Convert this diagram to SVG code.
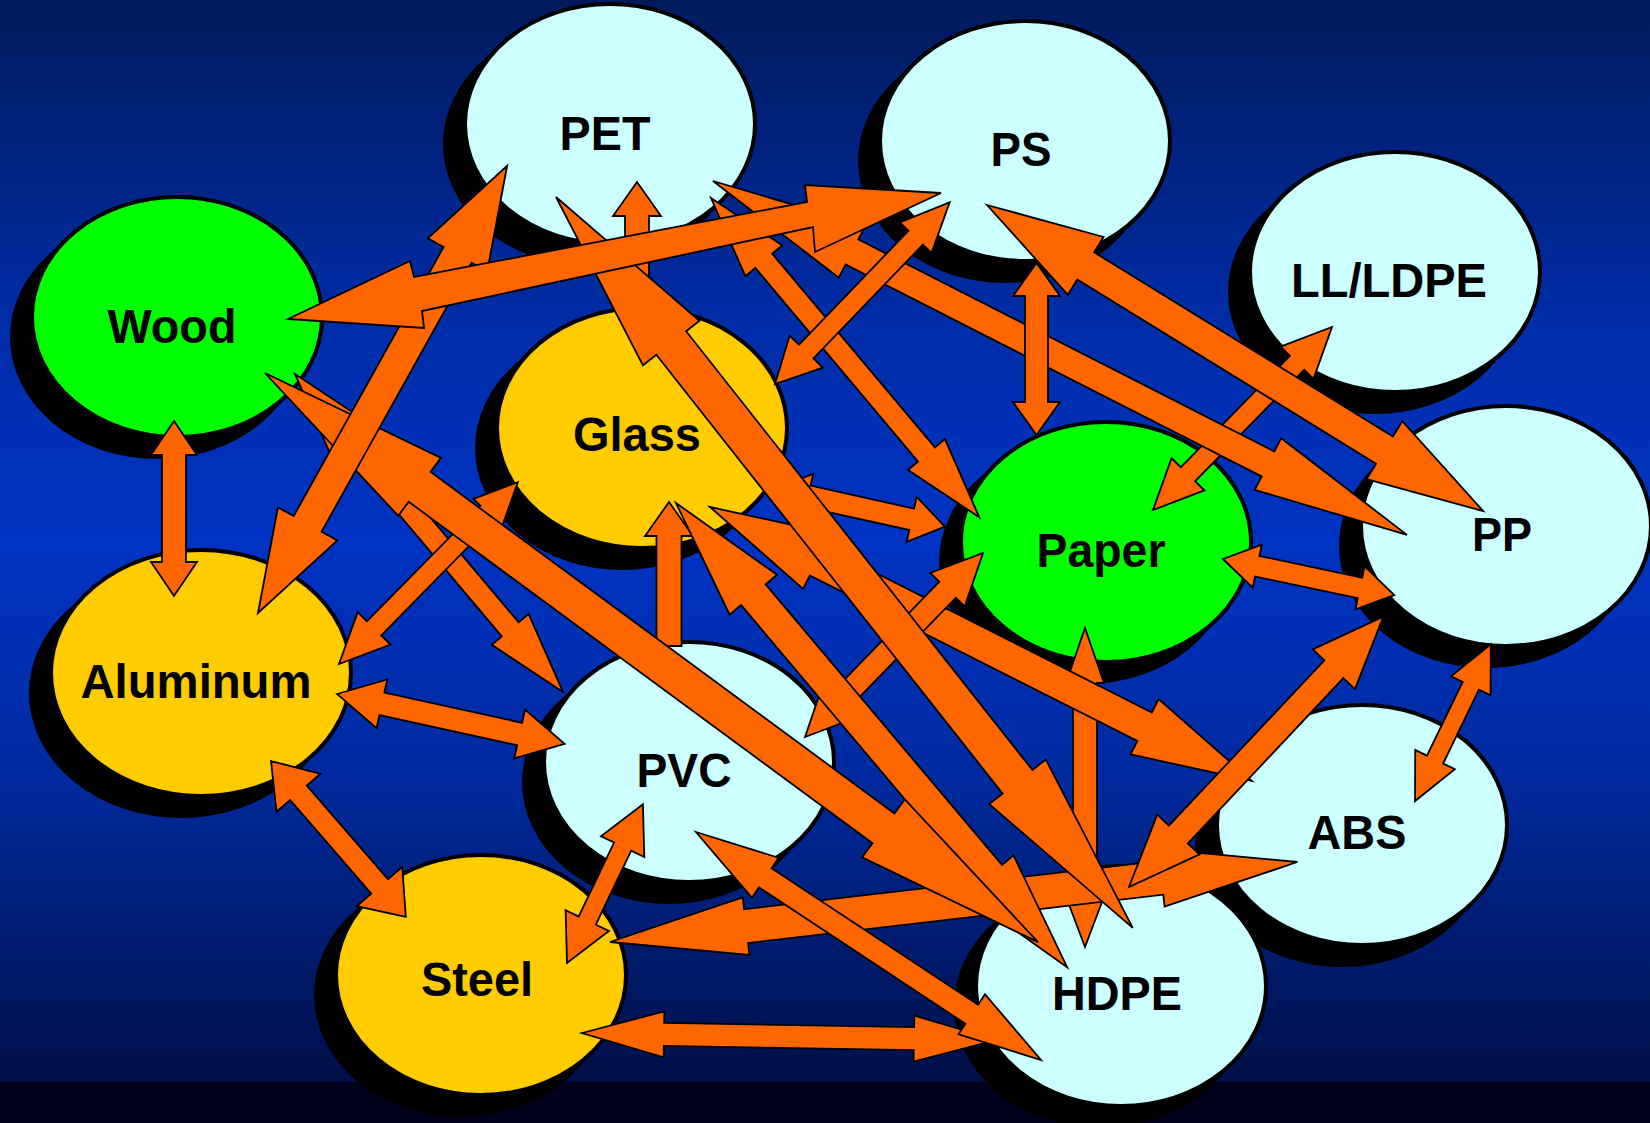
<svg xmlns="http://www.w3.org/2000/svg" width="1650" height="1123" viewBox="0 0 1650 1123">
<defs>
<linearGradient id="bg" x1="0" y1="0" x2="0" y2="1">
<stop offset="0" stop-color="#001a5c"/>
<stop offset="0.3" stop-color="#002da8"/>
<stop offset="0.5" stop-color="#0033c4"/>
<stop offset="0.72" stop-color="#002a9e"/>
<stop offset="1" stop-color="#000f48"/>
</linearGradient>
<style>
.sh{fill:#000;stroke:#000;stroke-width:4}
.nd{stroke:#000;stroke-width:4}
.lt{fill:#ccffff}.gr{fill:#00ff00}.ye{fill:#ffcc00}
.lb{font-family:"Liberation Sans",Arial,sans-serif;font-weight:bold;font-size:48px;fill:#000;text-anchor:middle}
.ar{fill:#ff6600;stroke:#000;stroke-width:1.8;stroke-linejoin:miter}
</style>
</defs>
<rect x="0" y="0" width="1650" height="1083" fill="url(#bg)"/>
<rect x="0" y="1082" width="1650" height="41" fill="#00001e"/>

<g id="nodes">
<g id="node-pet"><ellipse class="sh" cx="590" cy="144" rx="145" ry="120"/><ellipse class="nd lt" cx="610" cy="124" rx="145" ry="120"/><text class="lb" x="605" y="150" textLength="91" lengthAdjust="spacingAndGlyphs">PET</text></g>
<g id="node-ps"><ellipse class="sh" cx="1005" cy="161" rx="145" ry="120"/><ellipse class="nd lt" cx="1025" cy="141" rx="145" ry="120"/><text class="lb" x="1021" y="166" textLength="61" lengthAdjust="spacingAndGlyphs">PS</text></g>
<g id="node-lldpe"><ellipse class="sh" cx="1375" cy="292" rx="145" ry="120"/><ellipse class="nd lt" cx="1395" cy="272" rx="145" ry="120"/><text class="lb" x="1389" y="297" textLength="196" lengthAdjust="spacingAndGlyphs">LL/LDPE</text></g>
<g id="node-wood"><ellipse class="sh" cx="157" cy="337" rx="145" ry="120"/><ellipse class="nd gr" cx="177" cy="317" rx="145" ry="120"/><text class="lb" x="172" y="343" textLength="129" lengthAdjust="spacingAndGlyphs">Wood</text></g>
<g id="node-glass"><ellipse class="sh" cx="622" cy="448" rx="145" ry="120"/><ellipse class="nd ye" cx="642" cy="428" rx="145" ry="120"/><text class="lb" x="637" y="451" textLength="128" lengthAdjust="spacingAndGlyphs">Glass</text></g>
<g id="node-paper"><ellipse class="sh" cx="1086" cy="562" rx="145" ry="120"/><ellipse class="nd gr" cx="1106" cy="542" rx="145" ry="120"/><text class="lb" x="1101" y="567" textLength="129" lengthAdjust="spacingAndGlyphs">Paper</text></g>
<g id="node-pp"><ellipse class="sh" cx="1486" cy="546" rx="145" ry="120"/><ellipse class="nd lt" cx="1506" cy="526" rx="145" ry="120"/><text class="lb" x="1502" y="551" textLength="60" lengthAdjust="spacingAndGlyphs">PP</text></g>
<g id="node-aluminum"><ellipse class="sh" cx="181" cy="693" rx="150" ry="123"/><ellipse class="nd ye" cx="201" cy="673" rx="150" ry="123"/><text class="lb" x="196" y="698" textLength="231" lengthAdjust="spacingAndGlyphs">Aluminum</text></g>
<g id="node-pvc"><ellipse class="sh" cx="669" cy="782" rx="145" ry="120"/><ellipse class="nd lt" cx="689" cy="762" rx="145" ry="120"/><text class="lb" x="684" y="787" textLength="95" lengthAdjust="spacingAndGlyphs">PVC</text></g>
<g id="node-steel"><ellipse class="sh" cx="461" cy="995" rx="145" ry="120"/><ellipse class="nd ye" cx="481" cy="975" rx="145" ry="120"/><text class="lb" x="477" y="996" textLength="112" lengthAdjust="spacingAndGlyphs">Steel</text></g>
<g id="node-abs"><ellipse class="sh" cx="1342" cy="845" rx="145" ry="120"/><ellipse class="nd lt" cx="1362" cy="825" rx="145" ry="120"/><text class="lb" x="1357" y="849" textLength="99" lengthAdjust="spacingAndGlyphs">ABS</text></g>
<g id="node-hdpe"><ellipse class="sh" cx="1101" cy="1006" rx="145" ry="120"/><ellipse class="nd lt" cx="1121" cy="986" rx="145" ry="120"/><text class="lb" x="1117" y="1010" textLength="130" lengthAdjust="spacingAndGlyphs">HDPE</text></g>
</g>

<g id="connectors">
<polygon class="ar" points="669,502 693,536 681.5,536 681.5,646 656.5,646 656.5,536 645,536"/>
<polygon class="ar" points="637,182 661,216 649,216 649,300 625,300 625,216 613,216"/>
<polygon class="ar" points="1085,628 1104,683 1097,683 1097,902 1102,902 1085,947 1068,902 1073,902 1073,683 1066,683"/>
<polygon class="ar" transform="translate(610,942) rotate(-6.64)" points="0,0 137,-29 137,-17 555,-17 555,-29 692,0 555,29 555,17 137,17 137,29"/>
<polygon class="ar" transform="translate(582,1033) rotate(0.97)" points="0,0 82,-23 82,-11.5 332,-11.5 332,-23 414,0 332,23 332,11.5 82,11.5 82,23"/>
<polygon class="ar" transform="translate(696,832) rotate(33.46)" points="0,0 83,-24 83,-11.5 330.5,-11.5 330.5,-24 413.5,0 330.5,24 330.5,11.5 83,11.5 83,24"/>
<polygon class="ar" transform="translate(567,963) rotate(-64.45)" points="0,0 47,-24 47,-9.5 129,-9.5 129,-24 176,0 129,24 129,9.5 47,9.5 47,24"/>
<polygon class="ar" transform="translate(271,761) rotate(49.13)" points="0,0 42,-29 42,-11 166,-11 166,-30 206,0 166,30 166,11 42,11 42,29"/>
<polygon class="ar" transform="translate(337,694) rotate(12.37)" points="0,0 46,-25 46,-11.5 187,-11.5 187,-25 233,0 187,25 187,11.5 46,11.5 46,25"/>
<polygon class="ar" points="174,421 197,455 186,455 186,562 197,562 174,596 151,562 162,562 162,455 151,455"/>
<polygon class="ar" transform="translate(295,374) rotate(49.88)" points="0,0 82,-24 82,-11 334,-11 334,-24 416,0 334,24 334,11 82,11 82,24"/>
<polygon class="ar" transform="translate(339,664) rotate(-45.47)" points="0,0 50,-23 50,-10 212,-10 212,-20 255,0 212,20 212,10 50,10 50,23"/>
<polygon class="ar" transform="translate(775,489) rotate(12.5)" points="0,0 34,-23 34,-11 140,-11 140,-23 174,0 140,23 140,11 34,11 34,23"/>
<polygon class="ar" transform="translate(710,507) rotate(26.82)" points="0,0 120,-31 120,-16 487,-16 487,-31 607,0 487,31 487,16 120,16 120,31"/>
<polygon class="ar" transform="translate(805,737) rotate(-45.95)" points="0,0 51,-24 51,-11.5 205,-11.5 205,-24 256,0 205,24 205,11.5 51,11.5 51,24"/>
<polygon class="ar" transform="translate(676,503) rotate(49.88)" points="0,0 120,-31 120,-16 487,-16 487,-31 607,0 487,31 487,16 120,16 120,31"/>
<polygon class="ar" transform="translate(265,373) rotate(36.36)" points="0,0 192,-36 192,-18.5 768,-18.5 768,-36 960,0 768,36 768,18.5 192,18.5 192,36"/>
<polygon class="ar" transform="translate(556,197) rotate(51.72)" points="0,0 186,-36 186,-19 745,-19 745,-36 931,0 745,36 745,19 186,19 186,36"/>
<polygon class="ar" transform="translate(1129,887) rotate(-46.75)" points="0,0 72,-29 72,-13 299,-13 299,-29 371,0 299,29 299,13 72,13 72,29"/>
<polygon class="ar" transform="translate(1415,801) rotate(-64.17)" points="0,0 46,-22 46,-9 128,-9 128,-22 174,0 128,22 128,9 46,9 46,22"/>
<polygon class="ar" transform="translate(1223,559) rotate(11.89)" points="0,0 35,-22 35,-10.5 140,-10.5 140,-22 175,0 140,22 140,10.5 35,10.5 35,22"/>
<polygon class="ar" transform="translate(1153,510) rotate(-45.63)" points="0,0 50,-23 50,-10 206,-10 206,-23 256,0 206,23 206,10 50,10 50,23"/>
<polygon class="ar" transform="translate(987,205) rotate(31.67)" points="0,0 116,-34 116,-16 467,-16 467,-34 583,0 467,34 467,16 116,16 116,34"/>
<polygon class="ar" transform="translate(713,181) rotate(27.02)" points="0,0 156,-29 156,-14 623,-14 623,-29 779,0 623,29 623,14 156,14 156,29"/>
<polygon class="ar" transform="translate(711,198) rotate(49.96)" points="0,0 82,-24 82,-11 335,-11 335,-24 417,0 335,24 335,11 82,11 82,24"/>
<polygon class="ar" points="1036.5,263 1060,296 1048,296 1048,402 1060,402 1036.5,435 1013,402 1025,402 1025,296 1013,296"/>
<polygon class="ar" transform="translate(775,384) rotate(-46.12)" points="0,0 45,-23 45,-10 203,-10 203,-22 252,0 203,22 203,10 45,10 45,23"/>
<polygon class="ar" transform="translate(258,613) rotate(-60.88)" points="0,0 102,-34 102,-16 410,-16 410,-34 512,0 410,34 410,16 102,16 102,34"/>
<polygon class="ar" points="288,319 410,261 414,277 807,202 805,185 941,193 815,252 813,227 422,311 424,328"/>
</g>
</svg>
